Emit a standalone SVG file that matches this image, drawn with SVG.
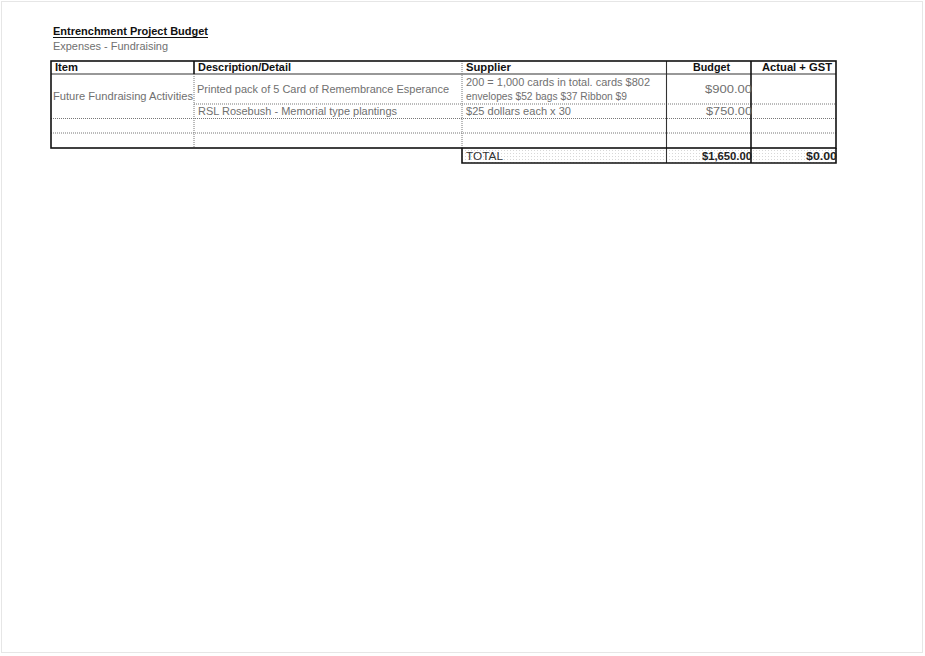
<svg xmlns="http://www.w3.org/2000/svg" width="925" height="656" viewBox="0 0 925 656">
<defs>
<pattern id="dots" width="3" height="3" patternUnits="userSpaceOnUse">
<rect x="0" y="0" width="1" height="1" fill="#d8d8d8"/>
</pattern>
</defs>
<style>
text{font-family:"Liberation Sans",Arial,sans-serif;font-size:10.5px}
.h{font-weight:bold;fill:#111}
.b{fill:#707070}
.bold{font-weight:bold;fill:#222}
.thick{stroke:#111;stroke-width:1.6;fill:none}
.solid{stroke:#333;stroke-width:1.1;fill:none}
.dot{stroke:#777;stroke-width:1;stroke-dasharray:1 1;fill:none}
.page{stroke:#ccc;stroke-width:1;stroke-dasharray:1 1;fill:none}
</style>
<rect width="925" height="656" fill="#fff"/>
<rect class="page" x="1.5" y="1.5" width="921" height="651"/>

<g id="title">
<text class="h" x="53" y="35" textLength="155" lengthAdjust="spacingAndGlyphs">Entrenchment Project Budget</text>
<line x1="53" y1="37.5" x2="208" y2="37.5" stroke="#111" stroke-width="1"/>
<text class="b" x="53" y="50" textLength="115" lengthAdjust="spacingAndGlyphs">Expenses - Fundraising</text>
</g>

<g id="total-bg">
<rect x="462" y="149" width="374" height="14" fill="url(#dots)"/>
</g>

<g id="grid">
<line class="solid" x1="51" y1="74" x2="836" y2="74"/>
<line class="dot" x1="194" y1="104" x2="836" y2="104"/>
<line class="dot" x1="51" y1="118.5" x2="836" y2="118.5"/>
<line class="dot" x1="51" y1="133" x2="836" y2="133"/>
<line class="thick" x1="194" y1="61" x2="194" y2="74"/>
<line class="dot" x1="194" y1="74" x2="194" y2="148"/>
<line class="dot" x1="462" y1="61" x2="462" y2="148"/>
<line class="solid" x1="666.5" y1="61" x2="666.5" y2="163"/>
<line class="thick" x1="751" y1="61" x2="751" y2="163"/>
<rect class="thick" x="51" y="61" width="785" height="87"/>
<polyline class="thick" points="462,148 462,163 836,163 836,148"/>
</g>

<g id="header">
<text class="h" x="55" y="71" textLength="23" lengthAdjust="spacingAndGlyphs">Item</text>
<text class="h" x="198" y="71" textLength="93" lengthAdjust="spacingAndGlyphs">Description/Detail</text>
<text class="h" x="466" y="71" textLength="45" lengthAdjust="spacingAndGlyphs">Supplier</text>
<text class="h" x="693" y="71" textLength="37" lengthAdjust="spacingAndGlyphs">Budget</text>
<text class="h" x="762" y="71" textLength="70" lengthAdjust="spacingAndGlyphs">Actual + GST</text>
</g>

<g id="row1">
<text class="b" x="53" y="100" textLength="140" lengthAdjust="spacingAndGlyphs">Future Fundraising Activities</text>
<text class="b" x="197" y="93" textLength="252" lengthAdjust="spacingAndGlyphs">Printed pack of 5 Card of Remembrance Esperance</text>
<text class="b" x="466" y="86" textLength="184" lengthAdjust="spacingAndGlyphs">200 = 1,000 cards in total. cards $802</text>
<text class="b" x="466" y="100" textLength="161" lengthAdjust="spacingAndGlyphs">envelopes $52 bags $37 Ribbon $9</text>
<text class="b" x="705" y="93" textLength="47" lengthAdjust="spacingAndGlyphs">$900.00</text>
</g>

<g id="row2">
<text class="b" x="198" y="115" textLength="199" lengthAdjust="spacingAndGlyphs">RSL Rosebush - Memorial type plantings</text>
<text class="b" x="466" y="115" textLength="105" lengthAdjust="spacingAndGlyphs">$25 dollars each x 30</text>
<text class="b" x="706" y="115" textLength="46" lengthAdjust="spacingAndGlyphs">$750.00</text>
</g>

<g id="total">
<text class="b" x="466" y="160" textLength="37" lengthAdjust="spacingAndGlyphs" style="fill:#333">TOTAL</text>
<text class="bold" x="702" y="160" textLength="50" lengthAdjust="spacingAndGlyphs">$1,650.00</text>
<text class="bold" x="806" y="160" textLength="31" lengthAdjust="spacingAndGlyphs">$0.00</text>
</g>
</svg>
